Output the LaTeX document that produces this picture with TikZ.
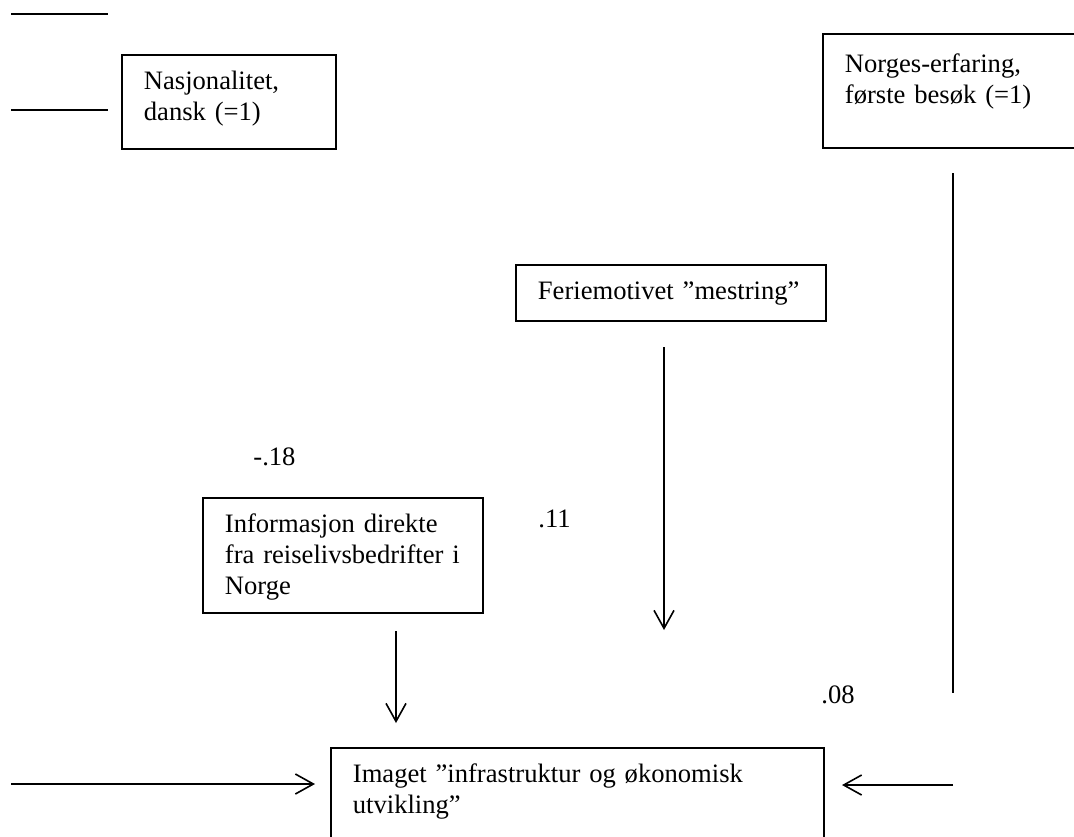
\documentclass[tikz,border=0pt]{standalone}
\usepackage{fontspec}
\setmainfont{Liberation Serif}
\usetikzlibrary{arrows.meta}

\tikzset{
	boks/.style={draw, line width=0.9pt, anchor=north west, inner xsep=11pt, inner ysep=0pt,
		align=left, text height=17.5pt, font=\fontsize{13.3}{15.3}\selectfont},
	tall/.style={anchor=base west, inner sep=0pt, font=\fontsize{13.3}{15.3}\selectfont},
	linje/.style={line width=0.8pt},
	pil/.style={line width=0.8pt, -{Straight Barb[length=9pt,width=10pt]}}
}

\begin{document}
\begin{tikzpicture}[x=0.5pt, y=-0.5pt]
			%%%%% START %%%%%
			\useasboundingbox (0, 0) rectangle (1074, 836);
			
			\node[boks, text width=85pt, text depth=29.5pt] (nasjonalitet) at (121, 54) {Nasjonalitet,\\ dansk (=1)};
			\node[boks, text width=122pt, text height=19.5pt, text depth=37.5pt] (erfaring) at (822, 33) {Norges-erfaring,\\ første besøk (=1)};
			\node[boks, text width=133pt, text depth=10.5pt] (mestring) at (515, 264) {Feriemotivet ”mestring”};
			\node[boks, text width=118pt, text depth=40pt] (informasjon) at (202, 497) {Informasjon direkte\\ fra reiselivsbedrifter i\\ Norge};
			\node[boks, text width=224.5pt, text depth=49pt] (imaget) at (330, 747) {Imaget ”infrastruktur og økonomisk\\ utvikling”};
			
			\node[tall] (koefA) at (253, 465) {-.18};
			\node[tall] (koefB) at (538, 527) {.11};
			\node[tall] (koefC) at (821, 703) {.08};
			
			% frie linjeender
			\coordinate (topA) at (11, 14);
			\coordinate (topB) at (108, 14);
			\coordinate (nasjA) at (11, 110);
			\coordinate (nasjB) at (108, 110);
			\coordinate (erfA) at (953, 173);
			\coordinate (erfB) at (953, 693);
			\coordinate (mestA) at (664, 347);
			\coordinate (mestB) at (664, 630);
			\coordinate (infoA) at (396, 631);
			\coordinate (infoB) at (396, 723);
			\coordinate (venstreA) at (11, 784);
			\coordinate (venstreB) at (315, 784);
			\coordinate (hoyreA) at (953, 785);
			\coordinate (hoyreB) at (842, 785);
			
			\draw[linje] (topA) -- (topB);
			\draw[linje] (nasjA) -- (nasjB);
			\draw[linje] (erfA) -- (erfB);
			\draw[pil] (mestA) -- (mestB);
			\draw[pil] (infoA) -- (infoB);
			\draw[pil] (venstreA) -- (venstreB);
			\draw[pil] (hoyreA) -- (hoyreB);
			
			%%%%% END %%%%%
\end{tikzpicture}
\end{document}
